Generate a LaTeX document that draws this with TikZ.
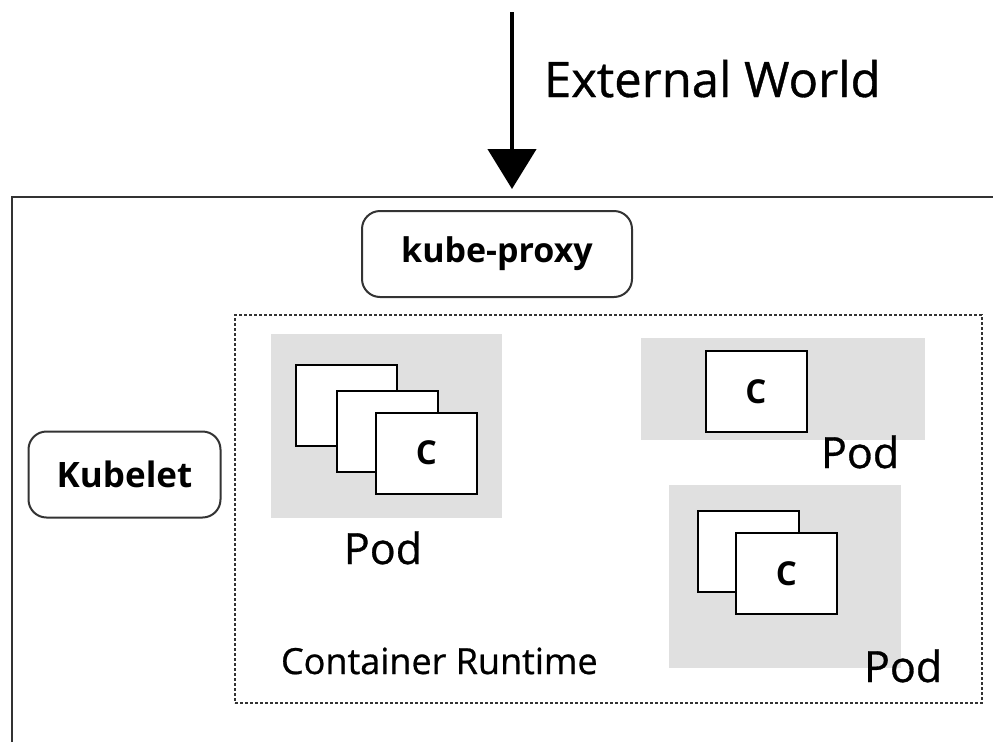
\documentclass[tikz,border=0pt]{standalone}
\usepackage{fontspec}
\setmainfont{Open Sans}
\newfontfamily\medfont{Open Sans}[FakeBold=0.7]
\usepackage{tikz}
\usetikzlibrary{arrows.meta}
\definecolor{podgray}{HTML}{E0E0E0}
\definecolor{edgegray}{HTML}{333333}

\begin{document}
\begin{tikzpicture}[x=1pt,y=-1pt,line width=2pt,
				main node/.style={draw=edgegray,rounded corners=18pt,minimum height=86pt,inner sep=0pt,font=\fontsize{34}{34}\selectfont\bfseries},
				pod node/.style={fill=podgray,inner sep=0pt},
				box node/.style={draw,fill=white,minimum width=101pt,minimum height=81pt,inner sep=0pt,font=\fontsize{33}{33}\selectfont\bfseries},
				label node/.style={inner sep=0pt,anchor=base west,font=\fontsize{43}{43}\selectfont\medfont}]
				
				\useasboundingbox (0,0) rectangle (993,742);
				
				\draw[edgegray] (12,742) -- (12,197) -- (993,197);
				
				\coordinate (world) at (512,12);
				\coordinate (entry) at (512,189);
				\draw[-{Triangle[width=48pt,length=40pt]},line width=4.5pt] (world) -- (entry);
				\node[label node,font=\fontsize{49}{49}\selectfont\medfont] (ext) at (543,97) {External World};
				
				\node[main node,minimum width=270pt] (proxy) at (497,254) {kube-proxy};
				\node[main node,minimum width=192pt,font=\fontsize{35}{35}\selectfont\bfseries] (kubelet) at (124.5,474.5) {Kubelet};
				
				\node[draw=edgegray,line width=1.3pt,dash pattern=on 3pt off 2pt,minimum width=747pt,minimum height=388pt,inner sep=0pt] (runtime) at (608.5,509) {};
				\node[label node,font=\fontsize{36}{36}\selectfont\medfont] (rtlabel) at (280,674) {Container Runtime};
				
				\node[pod node,minimum width=231pt,minimum height=184pt] (pod1) at (386.5,426) {};
				\node[pod node,minimum width=284pt,minimum height=102pt] (pod2) at (783,389) {};
				\node[pod node,minimum width=232pt,minimum height=183pt] (pod3) at (785,576.5) {};
				
				\node[box node] (c11) at (346,405.5) {};
				\node[box node] (c12) at (387.5,431.5) {};
				\node[box node] (c13) at (426.5,453) {C};
				\node[box node] (c21) at (756,391.5) {C};
				\node[box node] (c31) at (748,551.5) {};
				\node[box node] (c32) at (786.5,573.5) {C};
				
				\node[label node,anchor=base] (pod1label) at (383,564) {Pod};
				\node[label node] (pod2label) at (820,468) {Pod};
				\node[label node] (pod3label) at (863,682) {Pod};
				
				\end{tikzpicture}
\end{document}
